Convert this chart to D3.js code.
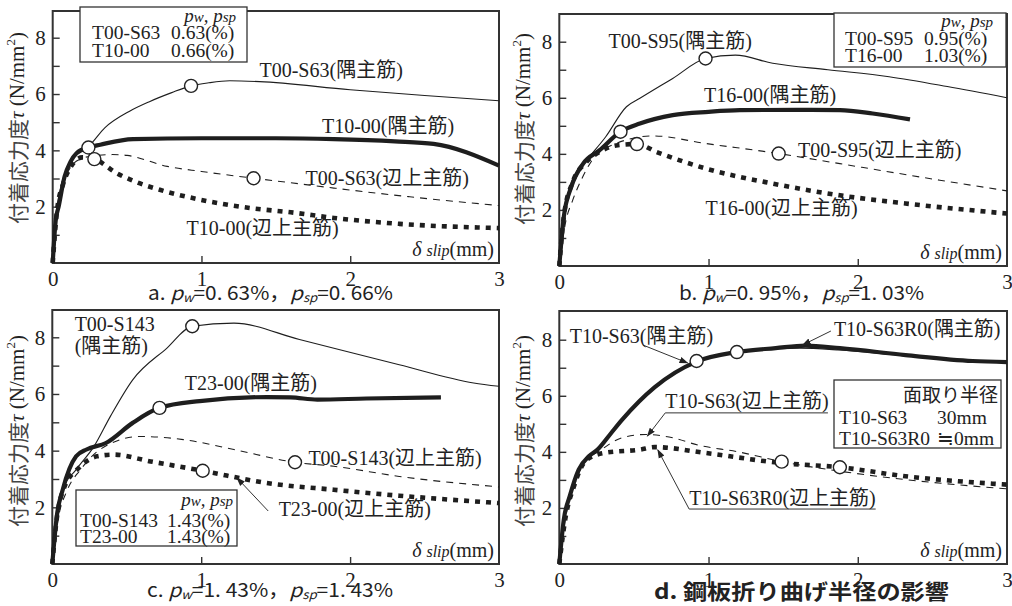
<!DOCTYPE html>
<html>
<head>
<meta charset="utf-8">
<script src="https://cdn.jsdelivr.net/npm/d3@7"></script>
<style>
  body { margin: 0; background: #fff; }
  svg { display: block; }
  text { fill: #222; }
  .serif { font-family: "Liberation Serif", "Noto Sans CJK JP", serif; }
  .gothic { font-family: "Noto Sans CJK JP", sans-serif; }
</style>
</head>
<body>
<div id="chart"></div>
<script>
'use strict';

// ---- data: [slip (mm), bond stress (N/mm2)] ----
const xTicks = [0, 1, 2, 3];
const yTicks = [1, 2, 3, 4, 5, 6, 7, 8];
const yTickLabels = [2, 4, 6, 8];

// panel a
const aS63Corner = [[0,0],[0.02,1.6],[0.05,2.6],[0.1,3.4],[0.16,3.9],[0.24,4.14],[0.35,4.8],[0.52,5.4],[0.65,5.73],[0.8,6.05],[0.93,6.29],[1.05,6.4],[1.19,6.47],[1.39,6.44],[2.0,6.15],[2.5,5.95],[3.0,5.76]];
const aT10Corner = [[0,0],[0.02,1.5],[0.04,2.0],[0.08,3.07],[0.12,3.6],[0.16,3.9],[0.24,4.1],[0.32,4.2],[0.54,4.4],[1.0,4.43],[1.5,4.43],[1.89,4.4],[2.3,4.32],[2.56,4.23],[3.0,3.46]];
const aS63Top = [[0,0],[0.03,1.9],[0.07,2.8],[0.12,3.4],[0.19,3.7],[0.27,3.8],[0.4,3.85],[0.5,3.82],[0.77,3.43],[1.0,3.25],[1.35,3.01],[1.6,2.85],[1.89,2.66],[2.4,2.35],[3.0,2.04]];
const aT10Top = [[0,0],[0.03,1.9],[0.07,2.8],[0.12,3.4],[0.2,3.75],[0.28,3.69],[0.43,3.19],[0.55,2.9],[0.72,2.6],[0.99,2.25],[1.33,1.95],[1.6,1.8],[1.89,1.6],[2.33,1.39],[3.0,1.24]];
const aMarks = [0.93, 0.24, 1.35, 0.28];

// panel b
const bS95Corner = [[0,0],[0.03,1.75],[0.09,3.1],[0.18,3.75],[0.31,4.6],[0.45,5.68],[0.54,5.98],[0.76,6.69],[0.98,7.4],[1.18,7.52],[1.43,7.23],[1.8,7.0],[2.21,6.75],[2.6,6.4],[3.0,6.0]];
const bT16Corner = [[0,0],[0.03,1.75],[0.08,2.82],[0.16,3.65],[0.27,4.13],[0.41,4.79],[0.54,5.08],[0.76,5.38],[1.0,5.5],[1.21,5.56],[1.6,5.57],[1.88,5.56],[2.1,5.44],[2.35,5.23]];
const bS95Top = [[0,0],[0.04,1.5],[0.09,2.35],[0.15,3.1],[0.22,3.77],[0.38,4.37],[0.63,4.64],[0.98,4.37],[1.47,4.01],[1.88,3.65],[2.55,3.06],[3.0,2.68]];
const bT16Top = [[0,0],[0.03,1.75],[0.09,3.0],[0.18,3.7],[0.28,4.1],[0.38,4.3],[0.52,4.35],[0.65,4.07],[0.98,3.48],[1.43,2.94],[1.88,2.52],[2.32,2.23],[3.0,1.87]];
const bMarks = [0.98, 0.41, 1.47, 0.52];

// panel c
const cS143Corner = [[0,0],[0.03,1.56],[0.07,2.62],[0.16,3.33],[0.28,4.15],[0.39,5.21],[0.54,6.5],[0.77,7.62],[0.94,8.39],[1.22,8.5],[1.66,7.92],[2.33,7.03],[2.83,6.39],[3.0,6.27]];
const cT23Corner = [[0,0],[0.03,1.68],[0.07,2.62],[0.16,3.8],[0.23,4.04],[0.36,4.27],[0.54,4.98],[0.72,5.51],[0.99,5.75],[1.44,5.89],[1.6,5.88],[1.78,5.8],[2.11,5.84],[2.61,5.88]];
const cS143Top = [[0,0],[0.04,1.6],[0.1,2.6],[0.19,3.33],[0.32,4.04],[0.59,4.5],[0.88,4.39],[1.22,4.04],[1.63,3.59],[1.89,3.45],[2.33,3.09],[3.0,2.72]];
const cT23Top = [[0,0],[0.03,1.6],[0.08,2.7],[0.18,3.4],[0.3,3.8],[0.41,3.86],[0.66,3.62],[1.01,3.29],[1.44,2.86],[1.89,2.62],[2.33,2.41],[3.0,2.15]];
const cMarks = [0.94, 0.72, 1.63, 1.01];

// panel d
const dS63Corner = [[0,0],[0.03,1.58],[0.07,2.42],[0.13,3.37],[0.2,3.85],[0.26,4.08],[0.34,4.58],[0.42,5.1],[0.64,6.3],[0.92,7.24],[1.2,7.55],[1.61,7.7],[1.88,7.63],[2.32,7.42],[2.77,7.26],[3.0,7.22]];
const dR0Corner = [[0,0],[0.03,1.58],[0.07,2.42],[0.13,3.37],[0.2,3.85],[0.26,4.1],[0.34,4.62],[0.42,5.14],[0.64,6.31],[0.92,7.22],[1.19,7.56],[1.45,7.7],[1.65,7.79],[1.88,7.7],[2.32,7.45],[2.77,7.24],[3.0,7.2]];
const dS63Top = [[0,0],[0.04,1.6],[0.1,2.8],[0.18,3.7],[0.26,4.0],[0.42,4.5],[0.58,4.62],[0.76,4.5],[0.93,4.24],[1.2,4.0],[1.49,3.65],[1.88,3.31],[2.32,3.01],[3.0,2.68]];
const dR0Top = [[0,0],[0.04,1.6],[0.1,2.8],[0.18,3.7],[0.3,3.96],[0.54,4.08],[0.64,4.17],[0.98,3.96],[1.49,3.6],[1.88,3.45],[2.32,3.13],[3.0,2.83]];
const dMarks = [0.92, 1.19, 1.49, 1.88];

// ---- layout ----
const width = 1012, height = 606;
const styles = {
    thin:  { w: 1.1, dash: null },
    thick: { w: 4.2, dash: null },
    dash:  { w: 1.1, dash: '7,6' },
    dot:   { w: 4.6, dash: '5,6' }
};

const panels = [
    { box: [52.7, 499, 11, 263], y8: 37.7, ylab: [17, 128],
      series: [[aS63Corner, 'thin'], [aT10Corner, 'thick'], [aS63Top, 'dash'], [aT10Top, 'dot']], marks: aMarks,
      labels: [['T00-S63(隅主筋)', 1.39, 6.6], ['T10-00(隅主筋)', 1.81, 4.62], ['T00-S63(辺上主筋)', 1.70, 2.77], ['T10-00(辺上主筋)', 0.90, 0.99]],
      legend: { rect: [80, 7, 167, 55], headX: 236, base: [22, 39, 57], cols: [92, 171],
                rows: [['T00-S63', '0.63(%)'], ['T10-00', '0.66(%)']] },
      caption: { x: 148, y: 300, len: 245, lead: 'a. ', v1: '=0. 63%，', v2: '=0. 66%' } },
    { box: [559.3, 1007, 14, 266], y8: 41.7, ylab: [523, 129],
      series: [[bS95Corner, 'thin'], [bT16Corner, 'thick'], [bS95Top, 'dash'], [bT16Top, 'dot']], marks: bMarks,
      labels: [['T00-S95(隅主筋)', 0.33, 7.79], ['T16-00(隅主筋)', 0.97, 5.86], ['T00-S95(辺上主筋)', 1.60, 3.89], ['T16-00(辺上主筋)', 0.98, 1.82]],
      legend: { rect: [834, 13, 172, 54], headX: 993, base: [27, 45, 62], cols: [845, 924],
                rows: [['T00-S95', '0.95(%)'], ['T16-00', '1.03(%)']] },
      caption: { x: 679, y: 300, len: 245, lead: 'b. ', v1: '=0. 95%，', v2: '=1. 03%' } },
    { box: [52.3, 499, 310, 564], y8: 337.3, ylab: [17, 431],
      series: [[cS143Corner, 'thin'], [cT23Corner, 'thick'], [cS143Top, 'dash'], [cT23Top, 'dot']], marks: cMarks,
      labels: [['T00-S143', 0.15, 8.22], ['(隅主筋)', 0.15, 7.45], ['T23-00(隅主筋)', 0.89, 6.14], ['T00-S143(辺上主筋)', 1.72, 3.49], ['T23-00(辺上主筋)', 1.52, 1.69]],
      leaders: [[[1.45, 1.87], [1.24, 3.04]]],
      legend: { rect: [76, 490, 161, 56], headX: 233, base: [506, 527, 543], cols: [80, 167],
                rows: [['T00-S143', '1.43(%)'], ['T23-00', '1.43(%)']] },
      caption: { x: 147, y: 597, len: 246, lead: 'c. ', v1: '=1. 43%，', v2: '=1. 43%' } },
    { box: [559.3, 1007, 311, 564], y8: 339.7, ylab: [523, 431],
      series: [[dS63Corner, 'thin'], [dR0Corner, 'thick'], [dS63Top, 'dash'], [dR0Top, 'dot']], marks: dMarks,
      labels: [['T10-S63(隅主筋)', 0.07, 7.88], ['T10-S63R0(隅主筋)', 1.84, 8.13], ['T10-S63(辺上主筋)', 0.71, 5.56], ['T10-S63R0(辺上主筋)', 0.87, 2.10]],
      leaders: [[[0.56, 7.81], [0.86, 7.17]], [[1.82, 8.31], [1.63, 7.81]], [[0.71, 5.39], [0.59, 4.56]], [[0.87, 1.96], [0.66, 4.07]]],
      underlines: [[0.71, 1.80, 5.39], [0.87, 2.12, 1.96]],
      legend: { rect: [834, 380, 167, 68], head: '面取り半径', headX: 998, base: [402, 424, 445], cols: [839, 937],
                rows: [['T10-S63', ' 30mm'], ['T10-S63R0', '≒0mm']] },
      caption: { x: 654, y: 599, len: 295, bold: true, text: 'd. 鋼板折り曲げ半径の影響' } }
];

const svg = d3.select('#chart').append('svg')
    .attr('width', width)
    .attr('height', height);

svg.append('defs').append('marker')
    .attr('id', 'arrow')
    .attr('viewBox', '0 0 10 10')
    .attr('refX', 9).attr('refY', 5)
    .attr('markerWidth', 9).attr('markerHeight', 9)
    .attr('markerUnits', 'userSpaceOnUse')
    .attr('orient', 'auto')
    .append('path')
    .attr('d', 'M0,1.5L10,5L0,8.5Z')
    .attr('fill', '#222');

function drawPanel(p) {
    const [left, right, top, bottom] = p.box;
    const x = d3.scaleLinear().domain([0, 3]).range([left, right]);
    const y = d3.scaleLinear().domain([0, 8]).range([bottom, p.y8]);
    const g = svg.append('g');

    // ticks (inward)
    const xAxis = g.append('g')
        .attr('transform', `translate(0,${bottom})`)
        .call(d3.axisBottom(x).tickValues(xTicks).tickSize(-7).tickPadding(8).tickFormat(d3.format('d')));
    const yAxis = g.append('g')
        .attr('transform', `translate(${left},0)`)
        .call(d3.axisLeft(y).tickValues(yTicks).tickSize(-7).tickPadding(7)
            .tickFormat(d => yTickLabels.includes(d) ? d : ''));
    [xAxis, yAxis].forEach(a => {
        a.select('.domain').remove();
        a.selectAll('line').attr('stroke', '#333').attr('stroke-width', 1.4);
        a.selectAll('text').attr('class', 'serif').style('font-size', '21px').attr('fill', '#222');
    });
    xAxis.selectAll('.tick').filter(d => d === 0 || d === 3).select('line').remove();

    // frame
    g.append('rect')
        .attr('x', left).attr('y', top)
        .attr('width', right - left).attr('height', bottom - top)
        .attr('fill', 'none').attr('stroke', '#333').attr('stroke-width', 2);

    // curves
    const line = d3.line().x(d => x(d[0])).y(d => y(d[1])).curve(d3.curveMonotoneX);
    p.series.forEach(([data, type]) => {
        const s = styles[type];
        g.append('path')
            .datum(data)
            .attr('d', line)
            .attr('fill', 'none')
            .attr('stroke', '#1e1e1e')
            .attr('stroke-width', s.w)
            .attr('stroke-linejoin', 'round')
            .attr('stroke-dasharray', s.dash);
    });

    // open circle markers
    p.series.forEach(([data], i) => {
        const pt = data.find(d => d[0] === p.marks[i]);
        g.append('circle')
            .attr('cx', x(pt[0])).attr('cy', y(pt[1]))
            .attr('r', 6.5)
            .attr('fill', '#fff').attr('stroke', '#222').attr('stroke-width', 1.4);
    });

    // leaders
    (p.underlines || []).forEach(([x1, x2, yy]) => {
        g.append('line')
            .attr('x1', x(x1)).attr('x2', x(x2)).attr('y1', y(yy)).attr('y2', y(yy))
            .attr('stroke', '#333').attr('stroke-width', 1);
    });
    (p.leaders || []).forEach(([a, b]) => {
        g.append('line')
            .attr('x1', x(a[0])).attr('y1', y(a[1]))
            .attr('x2', x(b[0])).attr('y2', y(b[1]))
            .attr('stroke', '#333').attr('stroke-width', 1)
            .attr('marker-end', 'url(#arrow)');
    });

    // curve labels
    p.labels.forEach(([t, lx, ly]) => {
        g.append('text')
            .attr('class', 'serif')
            .attr('x', x(lx)).attr('y', y(ly))
            .style('font-size', '20px')
            .text(t);
    });

    // slip axis label
    const sl = g.append('text')
        .attr('class', 'serif')
        .attr('x', right - 5).attr('y', bottom - 7)
        .attr('text-anchor', 'end')
        .style('font-size', '20px');
    sl.append('tspan').style('font-style', 'italic').text('δ ');
    sl.append('tspan').style('font-style', 'italic').style('font-size', '16px').text('slip');
    sl.append('tspan').text('(mm)');

    // y label
    const yl = g.append('text')
        .attr('transform', `translate(${p.ylab[0]},${p.ylab[1]}) rotate(-90)`)
        .attr('text-anchor', 'middle')
        .attr('dominant-baseline', 'central')
        .style('font-size', '21px');
    yl.append('tspan').attr('class', 'gothic').attr('fill', '#444').text('付着応力度');
    yl.append('tspan').attr('class', 'serif').style('font-style', 'italic').text('τ ');
    yl.append('tspan').attr('class', 'serif').text('(N/mm');
    yl.append('tspan').attr('class', 'serif').attr('dy', -7).style('font-size', '13px').text('2');
    yl.append('tspan').attr('class', 'serif').attr('dy', 7).text(')');

    // legend box
    const L = p.legend;
    g.append('rect')
        .attr('x', L.rect[0]).attr('y', L.rect[1])
        .attr('width', L.rect[2]).attr('height', L.rect[3])
        .attr('fill', '#fff').attr('stroke', '#333').attr('stroke-width', 1.3);
    const head = g.append('text')
        .attr('x', L.headX).attr('y', L.base[0])
        .attr('text-anchor', 'end')
        .style('font-size', '19px');
    if (L.head) {
        head.attr('class', 'gothic').text(L.head);
    } else {
        head.attr('class', 'serif').style('font-style', 'italic');
        head.append('tspan').text('p');
        head.append('tspan').style('font-size', '15px').text('w');
        head.append('tspan').text(',  p');
        head.append('tspan').style('font-size', '15px').text('sp');
    }
    L.rows.forEach((r, i) => {
        r.forEach((t, j) => {
            g.append('text')
                .attr('class', 'serif')
                .attr('x', L.cols[j]).attr('y', L.base[i + 1])
                .style('font-size', '19.5px')
                .text(t);
        });
    });

    // caption
    const C = p.caption;
    const cap = g.append('text')
        .attr('class', 'gothic')
        .attr('x', C.x).attr('y', C.y)
        .attr('textLength', C.len)
        .attr('lengthAdjust', 'spacingAndGlyphs')
        .style('font-size', C.bold ? '21px' : '19px')
        .style('font-weight', C.bold ? 'bold' : 'normal');
    if (C.text) {
        cap.text(C.text);
    } else {
        cap.append('tspan').text(C.lead);
        cap.append('tspan').style('font-style', 'italic').text('p');
        cap.append('tspan').style('font-size', '12px').style('font-style', 'italic').attr('dy', 2).text('w');
        cap.append('tspan').attr('dy', -2).text(C.v1);
        cap.append('tspan').style('font-style', 'italic').text('p');
        cap.append('tspan').style('font-size', '12px').style('font-style', 'italic').attr('dy', 2).text('sp');
        cap.append('tspan').attr('dy', -2).text(C.v2);
    }
}

panels.forEach(drawPanel);
</script>
</body>
</html>
